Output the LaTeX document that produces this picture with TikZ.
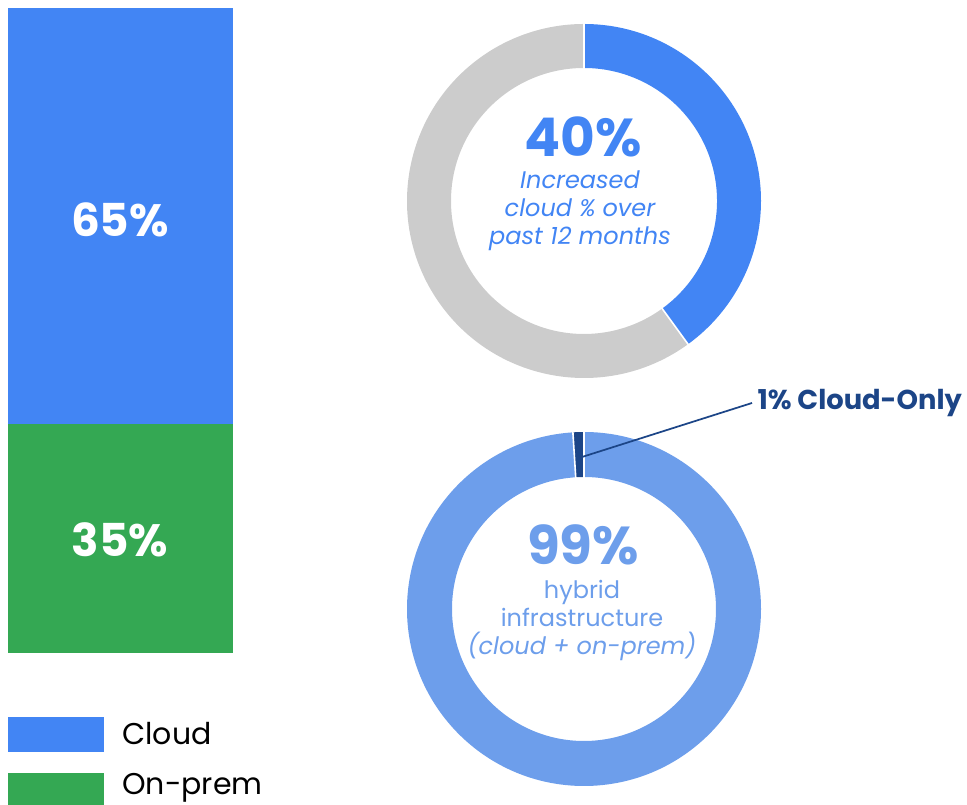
\documentclass[tikz,border=0pt]{standalone}
\usepackage{fontspec}
\setmainfont{Poppins}
\usetikzlibrary{calc}

\definecolor{cloudblue}{HTML}{4285F4}
\definecolor{prEmgreen}{HTML}{34A853}
\definecolor{ringgray}{HTML}{CCCCCC}
\definecolor{hybridblue}{HTML}{6D9EEB}
\definecolor{onlynavy}{HTML}{1C4587}

\begin{document}
\begin{tikzpicture}[x=0.75pt,y=0.75pt,
		big pct/.style={inner sep=0pt,font=\fontsize{40}{44}\selectfont\bfseries},
		bar pct/.style={font=\fontsize{34}{38}\selectfont\bfseries,text=white},
		ring text/.style={inner sep=0pt,align=center,font=\fontsize{18}{21}\selectfont},
		legend text/.style={anchor=base west,inner sep=0pt,font=\fontsize{22.5}{26}\selectfont}]
		\useasboundingbox (0,0) rectangle (967,805);
		
		% stacked bar
		\fill[cloudblue] (8,381) rectangle (233,797);
		\fill[prEmgreen] (8,152) rectangle (233,381);
		\node[bar pct] (65) at (120,585) {65\%};
		\node[bar pct] (35) at (120,265) {35\%};
		
		% legend
		\fill[cloudblue] (8,53) rectangle (104,88);
		\fill[prEmgreen] (8,0) rectangle (104,32);
		\node[legend text] (cloud) at (122,60) {Cloud};
		\node[legend text] (onprem) at (122,10) {On-prem};
		
		% top ring
		\coordinate (top) at (584,604);
		\fill[cloudblue] ($(top)+(90:177)$) arc[start angle=90,end angle=-54,radius=177]
		-- ($(top)+(-54:133)$) arc[start angle=-54,end angle=90,radius=133] -- cycle;
		\fill[ringgray] ($(top)+(-54:177)$) arc[start angle=-54,end angle=-270,radius=177]
		-- ($(top)+(90:133)$) arc[start angle=-270,end angle=-54,radius=133] -- cycle;
		\draw[white,line width=1.2pt] ($(top)+(90:132)$) -- ($(top)+(90:178)$);
		\draw[white,line width=1.2pt] ($(top)+(-54:132)$) -- ($(top)+(-54:178)$);
		\node[big pct,text=cloudblue] (40) at (583,668) {40\%};
		\node[ring text,text=cloudblue] (incr) at (580,594)
		{\itshape Increased\\\itshape cloud \% over\\\itshape past 12 months};
		
		% bottom ring
		\coordinate (bot) at (584,196);
		\fill[hybridblue] ($(bot)+(90:177)$) arc[start angle=90,end angle=-266.4,radius=177]
		-- ($(bot)+(93.6:132)$) arc[start angle=93.6,end angle=450,radius=132] -- cycle;
		\fill[onlynavy] ($(bot)+(90:177)$) arc[start angle=90,end angle=93.6,radius=177]
		-- ($(bot)+(93.6:132)$) arc[start angle=93.6,end angle=90,radius=132] -- cycle;
		\draw[white,line width=1.2pt] ($(bot)+(90:131)$) -- ($(bot)+(90:178)$);
		\draw[white,line width=1.2pt] ($(bot)+(93.6:131)$) -- ($(bot)+(93.6:178)$);
		\node[big pct,text=hybridblue] (99) at (583,260) {99\%};
		\node[ring text,text=hybridblue] (hyb) at (582,185)
		{hybrid\\infrastructure\\\itshape(cloud + on-prem)};
		
		% callout
		\coordinate (tip) at (582,348);
		\node[anchor=west,inner sep=4pt,text=onlynavy,font=\fontsize{20.5}{23}\selectfont\bfseries]
		(only) at (752,402) {1\% Cloud-Only};
		\draw[onlynavy,line width=1.3pt] (tip) -- (only.west);
\end{tikzpicture}
\end{document}
